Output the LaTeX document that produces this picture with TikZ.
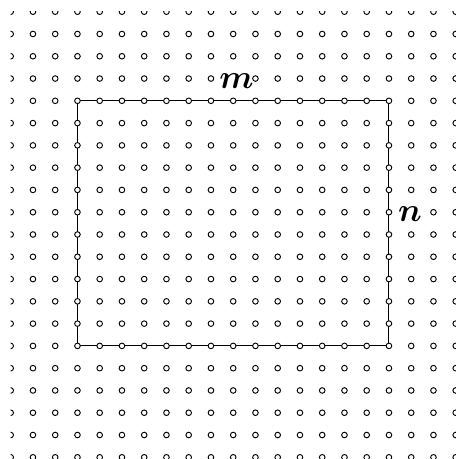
\documentclass[tikz,border=0pt]{standalone}
\usepackage{bm}
\begin{document}
\begin{tikzpicture}[x=0.75pt,y=-0.75pt,
  dot/.style={circle,draw=black,fill=white,inner sep=0pt,minimum size=4.2pt,line width=0.7pt},
  frame/.style={draw=black,line width=0.8pt},
  lab/.style={anchor=base,inner sep=0pt,font=\fontsize{26}{30}\selectfont}]
\useasboundingbox (0,0) rectangle (455,459);
\begin{scope}
  \clip (10.7,11.7) rectangle (458,462);
  \coordinate (tl) at (77.45,100.8);
  \coordinate (br) at (388.95,345.9);
  \draw[frame] (tl) rectangle (br);
  \foreach \i in {0,...,20}
    \foreach \j in {0,...,20}{
      \pgfmathtruncatemacro{\hide}{(\i==10 && \j==3) || (\i==18 && \j==9)}
      \ifnum\hide=0
        \node[dot] (d\i-\j) at ({10.7+22.25*\i},{11.7+22.28*\j}) {};
      \fi
    }
\end{scope}
\node[lab] (m) at (236.5,88.5) {$\bm{m}$};
\node[lab] (n) at (410,221.5) {$\bm{n}$};
\end{tikzpicture}
\end{document}
